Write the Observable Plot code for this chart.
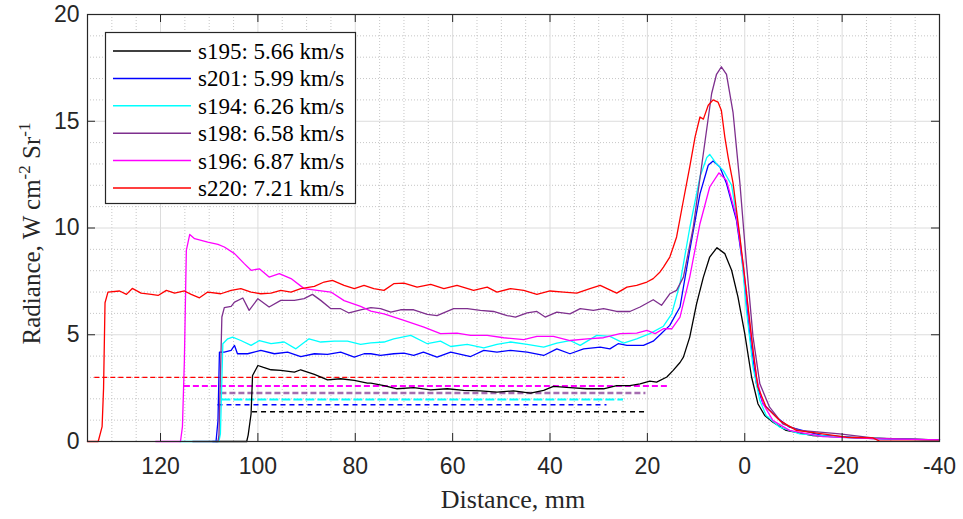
<!DOCTYPE html>
<html><head><meta charset="utf-8">
<script src="https://cdn.jsdelivr.net/npm/d3@7"></script>
<script src="https://cdn.jsdelivr.net/npm/@observablehq/plot@0.6"></script>
<style>body{margin:0;background:#fff;} #chart{width:963px;height:519px;}</style>
</head><body><div id="chart"></div>
<script>
// ---------- data ----------
const seriesNames = ["s195", "s201", "s194", "s198", "s196", "s220"];
const seriesLabels = ["s195: 5.66 km/s", "s201: 5.99 km/s", "s194: 6.26 km/s", "s198: 6.58 km/s", "s196: 6.87 km/s", "s220: 7.21 km/s"];
const seriesColors = ["#000000", "#0000ff", "#00ffff", "#7e2f8e", "#ff00ff", "#ff0000"];

const s195_x = [108.6,102.3,102.0,101.4,101.1,100.0,99.0,97.3,95.3,92.5,91.2,88.4,85.7,83.0,80.2,77.5,76.8,74.1,71.4,68.0,64.5,61.1,57.7,54.3,50.9,47.5,44.0,41.3,39.3,35.9,32.4,29.0,26.3,23.6,21.5,19.5,18.1,16.0,14.7,13.3,12.6,11.3,9.9,8.5,7.2,5.7,4.1,2.7,1.4,0,-1.4,-2.7,-4.1,-5.8,-8.5,-14,-22.9,-40];
const s195_y = [0,0,0.3,1.3,3.09,3.56,3.48,3.36,3.33,3.25,3.36,3.14,2.89,2.94,2.86,2.73,2.73,2.62,2.47,2.52,2.42,2.47,2.39,2.37,2.31,2.37,2.27,2.39,2.58,2.52,2.47,2.47,2.62,2.62,2.7,2.83,2.78,3.02,3.33,3.7,3.95,4.89,6.45,7.7,8.64,9.08,8.8,8.02,6.77,5.05,3.02,1.77,1.22,0.9,0.52,0.28,0.17,0.08];

const s201_x = [109.3,108.6,108.2,107.9,106.9,105.5,104.8,104.2,102.1,99.4,96.6,93.9,91.2,88.4,85.7,83.0,80.2,78.2,76.8,74.8,72.1,70.0,68.0,66.0,63.2,60.4,56.3,53.6,50.9,48.1,44.7,41.3,38.6,35.9,33.1,29.7,27.7,26.0,24.2,20.8,18.8,17.4,15.4,13.3,11.3,9.2,7.5,6.5,5.1,3.75,1.7,0.35,-1.0,-2.4,-3.75,-6.5,-9.2,-16,-26.3,-40];
const s201_y = [0,0,0.98,4.19,4.19,4.27,4.5,4.11,4.11,4.27,4.11,4.19,3.98,4.11,4.08,4.19,3.95,4.11,4.11,4.03,4.11,4.14,4.03,4.19,3.95,4.19,3.98,4.27,4.19,4.27,4.19,4.03,4.34,4.11,4.34,4.42,4.34,4.58,4.5,4.5,4.7,5.0,5.44,6.3,8.95,11.6,12.94,13.14,12.86,12.08,10.36,8.17,5.05,2.7,1.77,1.14,0.67,0.28,0.13,0.08];

const s194_x = [116,108.0,107.7,107.2,106.2,105.2,103.5,101.4,99.7,97.3,94.6,92.2,89.5,87.1,84.3,81.6,78.9,76.8,74.1,72.1,68.6,65.2,62.5,60.4,57.0,53.6,50.9,48.1,44.7,41.3,38.6,35.9,33.8,30.4,27.7,24.9,22.2,19.5,16.7,15.0,13.3,11.3,9.2,7.8,7.2,5.8,4.4,2.7,1.0,-0.35,-1.7,-3.1,-4.4,-7.2,-11.3,-19.5,-40];
const s194_y = [0,0,0.37,4.58,4.81,4.89,4.73,4.5,4.73,4.58,4.66,4.34,4.81,4.66,4.7,4.7,4.55,4.62,4.66,4.81,4.97,4.58,4.7,4.45,4.55,4.39,4.55,4.66,4.55,4.42,4.61,4.73,4.5,4.97,4.92,4.61,4.81,5.05,5.4,5.98,7.4,10.0,12.4,13.3,13.45,13.0,12.7,12.0,9.6,6.14,3.48,1.92,1.22,0.67,0.36,0.2,0.05];

const s198_x = [113.4,108.2,108.0,107.4,106.9,105.5,104.8,103.1,101.8,100.0,97.7,95.3,92.5,90.5,88.8,87.1,85.0,83.0,81.3,78.9,76.8,74.8,72.7,70.7,68.0,65.2,63.2,59.8,57.0,54.3,51.6,48.8,47.1,44.7,42.7,41.0,38.6,35.9,33.8,31.1,29.0,26.3,23.6,21.5,18.8,17.1,15.4,14.0,12.6,10.6,8.5,6.8,5.8,4.8,3.75,2.4,1.0,-0.35,-1.7,-3.1,-5.1,-7.8,-11.3,-19.5,-26.3,-33.1,-40];
const s198_y = [0,0,0.3,5.83,6.27,6.33,6.53,6.72,6.14,6.69,6.3,6.61,6.61,6.69,6.89,6.61,6.22,6.22,6.02,6.17,6.27,6.22,6.06,6.17,6.17,5.95,5.9,6.22,6.22,6.14,6.09,5.9,5.83,6.02,6.09,5.83,6.06,5.98,6.22,6.14,6.22,6.09,6.09,6.3,6.64,6.38,6.92,7.08,7.7,10.0,13.5,16.3,17.2,17.55,17.2,15.4,12.1,8.33,4.9,2.7,1.61,0.83,0.52,0.36,0.17,0.11,0.08];

const s196_x = [121,115.9,115.5,115.1,114.7,114.0,113.0,110.3,108.2,106.9,104.8,102.8,101.4,99.7,97.7,95.6,93.2,90.5,87.8,85.0,82.3,78.9,76.8,74.1,70.0,65.9,62.5,59.1,56.3,52.9,49.5,45.4,42.7,39.3,35.9,32.4,29.0,25.6,22.2,20.1,18.4,16.7,15.0,13.3,11.3,9.2,7.2,5.3,3.75,1.7,0.35,-1.0,-2.4,-3.75,-5.8,-9.2,-16,-26.3,-40];
const s196_y = [0,0,0.7,3.8,8.95,9.7,9.5,9.34,9.23,9.11,8.8,8.33,8.02,8.09,7.7,7.86,7.63,7.16,7.08,7.0,6.6,6.33,6.11,5.98,5.67,5.36,5.05,5.08,4.97,4.97,4.86,4.77,4.92,4.92,4.73,4.81,4.86,5.05,5.08,5.2,5.05,5.28,5.28,5.83,7.7,10.2,11.92,12.58,12.23,10.5,8.33,5.52,3.0,1.77,0.98,0.52,0.23,0.13,0.08];

const s220_x = [135,132.8,132.0,131.7,131.4,130.8,128.4,127.0,125.8,124.0,121.9,120.5,118.8,117.1,115.1,113.7,112.0,110.3,107.6,105.5,103.5,101.4,99.4,97.3,95.3,93.2,91.2,88.4,86.4,84.7,82.3,80.2,78.2,76.2,74.1,72.1,70.0,67.3,64.5,61.8,59.1,55.7,52.9,50.9,48.1,45.4,42.7,40.0,37.2,34.5,31.8,29.7,26.3,24.2,22.2,20.1,18.8,17.4,16.7,15.4,14.7,14.0,12.6,11.3,10.2,9.2,8.5,7.5,6.5,5.5,4.8,4.1,3.4,2.4,1.0,-0.3,-1.7,-2.7,-4.4,-7.2,-10.6,-16,-20.8,-26.3,-27.7,-40];
const s220_y = [0,0,0.7,2.5,6.5,7.0,7.05,6.89,7.17,6.95,6.89,6.84,7.08,6.95,7.05,6.89,6.73,7.0,6.92,7.08,7.16,7.0,6.92,6.95,7.08,7.0,7.16,7.27,7.47,7.55,7.31,7.16,7.31,7.16,7.08,7.39,7.42,7.23,7.36,7.16,7.31,7.08,7.23,7.0,7.16,7.08,6.89,7.05,7.0,6.95,7.16,7.31,6.95,7.23,7.31,7.47,7.63,7.94,8.17,8.64,9.1,9.58,11.3,12.86,14.27,15.2,15.1,15.75,16.0,15.9,15.5,14.27,13.3,12.1,9.58,7.08,4.27,2.55,1.61,0.98,0.52,0.36,0.2,0.17,0.02,0.02];

// horizontal dashed reference levels (same series order)
const dashLevel = [1.39, 1.72, 1.97, 2.27, 2.6, 3.0];
const dashFrom  = [101.1, 108.2, 107.4, 107.6, 115.1, 133.5];
const dashTo    = [20.3, 28.3, 24.9, 20.3, 15.7, 24.6];

const xTicks = [120, 100, 80, 60, 40, 20, 0, -20, -40];
const yTicks = [0, 5, 10, 15, 20];
const xMinor = d3.range(-40, 136, 5).filter(v => v % 20 !== 0);
const yMinor = d3.range(0, 21, 1).filter(v => v % 5 !== 0);

// ---------- build ----------
const xs = [s195_x, s201_x, s194_x, s198_x, s196_x, s220_x];
const ys = [s195_y, s201_y, s194_y, s198_y, s196_y, s220_y];
const rows = seriesNames.map((n, i) => xs[i].map((x, j) => ({name: n, x, y: ys[i][j]})));
const dashRows = seriesNames.map((n, i) => ({name: n, y: dashLevel[i], x1: dashFrom[i], x2: dashTo[i]}));
const dashStyles = [
  {strokeDasharray: "5,4", strokeWidth: 1.5, strokeOpacity: 1},
  {strokeDasharray: "5,4", strokeWidth: 1.6, strokeOpacity: 1},
  {strokeDasharray: "9,3", strokeWidth: 2, strokeOpacity: 1},
  {strokeDasharray: "6,3", strokeWidth: 2.6, strokeOpacity: 0.7},
  {strokeDasharray: "6,3", strokeWidth: 2, strokeOpacity: 1},
  {strokeDasharray: "5,3", strokeWidth: 1.3, strokeOpacity: 1}
];

const W = 963, H = 519, mL = 87, mR = 24, mT = 14, mB = 78;
const plotH = H - mT - mB, plotW = W - mL - mR;
const axisColor = "#262626";
const sans = "'Liberation Sans', Arial, Helvetica, sans-serif";
const serif = "'Liberation Serif', 'Times New Roman', Times, serif";

const marks = [
  Plot.ruleX(xMinor, {stroke: "#b8b8b8", strokeDasharray: "1,2", strokeWidth: 0.8}),
  Plot.ruleY(yMinor, {stroke: "#b8b8b8", strokeDasharray: "1,2", strokeWidth: 0.8}),
  Plot.ruleX(xTicks, {stroke: "#dcdcdc", strokeWidth: 1}),
  Plot.ruleY(yTicks, {stroke: "#dcdcdc", strokeWidth: 1})
];
dashRows.forEach((d, i) => {
  marks.push(Plot.ruleY([d], {y: "y", x1: "x1", x2: "x2", stroke: seriesColors[i], ...dashStyles[i]}));
});
rows.forEach((r, i) => {
  marks.push(Plot.line(r, {x: "x", y: "y", stroke: seriesColors[i], strokeWidth: 1.3}));
});
marks.push(
  Plot.tickX(xTicks, {x: d => d, insetTop: plotH - 8, stroke: axisColor}),
  Plot.tickX(xTicks, {x: d => d, insetBottom: plotH - 8, stroke: axisColor}),
  Plot.tickY(yTicks, {y: d => d, insetRight: plotW - 8, stroke: axisColor}),
  Plot.tickY(yTicks, {y: d => d, insetLeft: plotW - 8, stroke: axisColor}),
  Plot.frame({stroke: axisColor, strokeWidth: 1.2}),
  Plot.axisX(xTicks, {tickSize: 0, tickPadding: 16, fontSize: 23, fontFamily: sans, fill: axisColor, tickFormat: d => String(d), label: null}),
  Plot.axisY(yTicks, {tickSize: 0, tickPadding: 8, fontSize: 23, fontFamily: sans, fill: axisColor, tickFormat: d => String(d), label: null})
);

const svgNode = Plot.plot({
  width: W, height: H,
  marginLeft: mL, marginRight: mR, marginTop: mT, marginBottom: mB,
  x: {domain: [135, -40]},
  y: {domain: [0, 20]},
  style: {background: "white", overflow: "visible"},
  marks
});

const svg = d3.select(svgNode);
// axis titles
svg.append("text")
  .attr("x", (mL + W - mR) / 2).attr("y", 508)
  .attr("text-anchor", "middle")
  .attr("font-family", serif).attr("font-size", 26).attr("fill", axisColor)
  .text("Distance, mm");

const yl = svg.append("text")
  .attr("transform", `translate(40,${(mT + H - mB) / 2 + 6}) rotate(-90)`)
  .attr("text-anchor", "middle")
  .attr("font-family", serif).attr("font-size", 25).attr("fill", axisColor);
yl.append("tspan").text("Radiance, W cm");
yl.append("tspan").attr("dy", -10).attr("font-size", 17).text("-2");
yl.append("tspan").attr("dy", 10).text(" Sr");
yl.append("tspan").attr("dy", -10).attr("font-size", 17).text("-1");

// legend
const lg = svg.append("g").attr("text-anchor", "start");
lg.append("rect").attr("x", 105.5).attr("y", 32.5).attr("width", 250).attr("height", 171)
  .attr("fill", "white").attr("stroke", axisColor).attr("stroke-width", 1.2);
seriesLabels.forEach((lab, i) => {
  const cy = 51 + i * 27.4;
  lg.append("line").attr("x1", 113).attr("x2", 191).attr("y1", cy).attr("y2", cy)
    .attr("stroke", seriesColors[i]).attr("stroke-width", 1.5);
  lg.append("text").attr("x", 198).attr("y", cy + 8).attr("text-anchor", "start")
    .attr("font-family", serif).attr("font-size", 23).attr("fill", "#000").text(lab);
});

document.getElementById("chart").appendChild(svgNode);
</script>
</body></html>
